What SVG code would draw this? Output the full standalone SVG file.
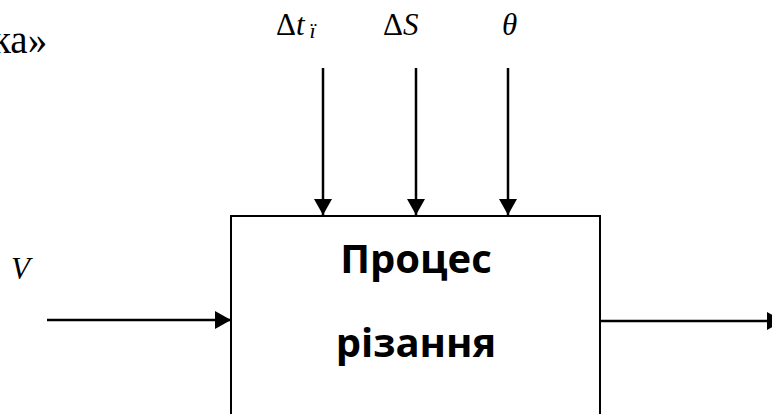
<svg xmlns="http://www.w3.org/2000/svg" width="772" height="414" viewBox="0 0 772 414">
  <style>
    .line { stroke: #000; stroke-width: 2.5; fill: none; }
    .box { stroke: #000; stroke-width: 2; fill: #fff; }
    .title { font-family: "Open Sans", "Noto Sans", sans-serif; font-weight: bold; font-size: 40px; fill: #000; text-anchor: middle; }
  </style>
  <defs>
    <marker id="arrow" viewBox="0 0 16 18" refX="16" refY="9" markerWidth="16" markerHeight="18" markerUnits="userSpaceOnUse" orient="auto">
      <path d="M0,0 L16,9 L0,18 Z" fill="#000"/>
    </marker>
  </defs>

  <!-- caption fragment -->
  <text x="-8" y="53" font-family="'Liberation Serif', serif" font-size="39" fill="#000">ка»</text>

  <!-- input labels -->
  <g id="label-dt" font-family="'Liberation Serif', serif" font-size="31" fill="#000">
    <text x="276" y="35">Δ<tspan font-style="italic">t</tspan><tspan font-style="italic" font-size="22" dx="5" dy="3">ї</tspan></text>
  </g>
  <g id="label-ds" font-family="'Liberation Serif', serif" font-size="31" fill="#000">
    <text x="383" y="35">Δ<tspan font-style="italic">S</tspan></text>
  </g>
  <g id="label-theta" font-family="'Liberation Serif', serif" font-size="31" fill="#000">
    <text x="502" y="35" font-style="italic">θ</text>
  </g>
  <g id="label-v" font-family="'Liberation Serif', serif" font-size="31" fill="#000">
    <text x="11" y="279" font-style="italic">V</text>
  </g>

  <!-- process block -->
  <g id="process">
    <rect x="231" y="216" width="369" height="210" class="box"/>
    <text x="416" y="273" class="title">Процес</text>
    <text x="416" y="357" class="title">різання</text>
  </g>

  <!-- connectors -->
  <g id="connectors">
    <line x1="323" y1="68" x2="323" y2="215" class="line" marker-end="url(#arrow)"/>
    <line x1="416" y1="68" x2="416" y2="215" class="line" marker-end="url(#arrow)"/>
    <line x1="508" y1="68" x2="508" y2="215" class="line" marker-end="url(#arrow)"/>
    <line x1="47" y1="320" x2="231" y2="320" class="line" marker-end="url(#arrow)"/>
    <line x1="600" y1="321" x2="783" y2="321" class="line" marker-end="url(#arrow)"/>
  </g>
</svg>
